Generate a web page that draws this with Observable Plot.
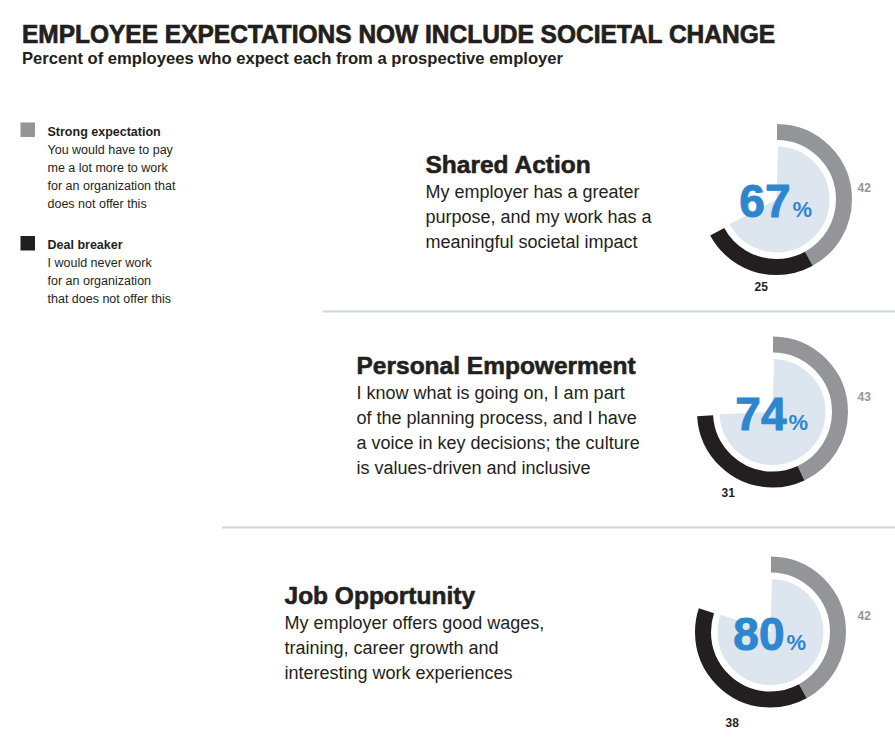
<!DOCTYPE html>
<html>
<head>
<meta charset="utf-8">
<script src="https://cdn.jsdelivr.net/npm/d3@7"></script>
<script src="https://cdn.jsdelivr.net/npm/@observablehq/plot@0.6"></script>
<style>
  body { margin: 0; background: #fff; }
  #wrap { position: relative; width: 895px; height: 747px; overflow: hidden;
          font-family: 'Liberation Sans', Arial, Helvetica, sans-serif; color: #231f20; }
  #title { position: absolute; left: 22px; top: 22px; font-size: 25px; line-height: 25px;
           font-weight: bold; white-space: nowrap; transform-origin: 0 0; display: inline-block;
           -webkit-text-stroke: 0.7px #231f20; }
  #subtitle { position: absolute; left: 22px; top: 50px; font-size: 16.5px; line-height: 16.5px;
              font-weight: bold; white-space: nowrap; transform-origin: 0 0; display: inline-block; }
  #chart { position: absolute; left: 0; top: 80px; }
</style>
</head>
<body>
<div id="wrap">
  <div id="title"></div>
  <div id="subtitle"></div>
  <div id="chart"></div>
</div>
<script>
// ---------- data ----------
const titleText = "EMPLOYEE EXPECTATIONS NOW INCLUDE SOCIETAL CHANGE";
const subtitleText = "Percent of employees who expect each from a prospective employer";
const categories = ["Shared Action", "Personal Empowerment", "Job Opportunity"];
const descriptionLines = [
  ["My employer has a greater", "purpose, and my work has a", "meaningful societal impact"],
  ["I know what is going on, I am part", "of the planning process, and I have", "a voice in key decisions; the culture", "is values-driven and inclusive"],
  ["My employer offers good wages,", "training, career growth and", "interesting work experiences"]
];
const strongExpectation = [42, 43, 42];
const dealBreaker = [25, 31, 38];
const totalPercent = [67, 74, 80];
const seriesNames = ["Strong expectation", "Deal breaker"];
const seriesNotes = [
  ["You would have to pay", "me a lot more to work", "for an organization that", "does not offer this"],
  ["I would never work", "for an organization", "that does not offer this"]
];

// ---------- layout & style (page pixel coordinates) ----------
const L = {
  cx: [776, 772, 770],
  cy: [199, 411.5, 631.5],
  textX: [425, 356, 284],
  headBaseline: [172, 373, 603],
  lineStep: 25,
  grayLabel: [[857, 191], [857, 400], [857, 619]],
  darkLabel: [[754, 290], [721, 496], [725, 726]],
  separators: [[323, 311], [222, 527]],
  legendX: 20.5, legendSq: 14.5, legendTextX: 47,
  legendTop: [122.5, 236], legendStep: 18,
  ringR: 67.5, ringW: 16, pieR: 53
};
const C = {
  strong: "#939598", deal: "#231f20", pie: "#dde6ef", blue: "#2e86cf",
  text: "#231f20", sep: "#c9d6e0"
};
const seriesColors = [C.strong, C.deal];
const FONT = "'Liberation Sans', Arial, Helvetica, sans-serif";
const mid = (baseline, fs) => baseline - 0.32 * fs; // Plot lineAnchor "middle" => dy .32em

// ---------- header ----------
const t = document.getElementById("title");
t.textContent = titleText;
const s = document.getElementById("subtitle");
s.textContent = subtitleText;
function fit(el, w) {
  const bw = el.getBoundingClientRect().width;
  el.style.transform = `scaleX(${w / bw})`;
}
fit(t, 753);
fit(s, 541);

// ---------- rows ----------
const rows = categories.map((c, i) => ({
  i, category: c, strong: strongExpectation[i], deal: dealBreaker[i], total: totalPercent[i],
  cx: L.cx[i], cy: L.cy[i]
}));

function arcDot(row, startPct, pct, radius, width, color) {
  const circ = 2 * Math.PI * radius;
  const len = pct / 100 * circ;
  const startDeg = ((startPct / 100 * 360 - 90) % 360 + 360) % 360;
  const p0 = startDeg / 360 * circ;
  return Plot.dot([row], {
    x: "cx", y: "cy", r: radius, fill: "none", stroke: color, strokeWidth: width,
    strokeDasharray: `${len} ${circ - len}`, strokeDashoffset: circ - p0
  });
}

const ringMarks = rows.flatMap(r => [
  arcDot(r, 0, r.total, L.pieR / 2, L.pieR, C.pie),
  arcDot(r, 0, r.strong, L.ringR, L.ringW, C.strong),
  arcDot(r, r.strong, r.deal, L.ringR, L.ringW, C.deal)
]);

const descRows = descriptionLines.flatMap((lines, i) =>
  lines.map((text, j) => ({ text, x: L.textX[i], y: mid(L.headBaseline[i] + L.lineStep * (j + 1), 18) })));

const legendRows = seriesNames.map((name, k) => ({
  name, x1: L.legendX, x2: L.legendX + L.legendSq,
  y1: L.legendTop[k], y2: L.legendTop[k] + L.legendSq,
  ty: mid(L.legendTop[k] + 12.5, 12.5)
}));
const legendNoteRows = seriesNotes.flatMap((notes, k) =>
  notes.map((text, j) => ({ text, y: mid(L.legendTop[k] + 12.5 + L.legendStep * (j + 1), 12.5) })));

const chart = Plot.plot({
  width: 895,
  height: 667,
  margin: 0,
  x: { type: "linear", domain: [0, 895], range: [0, 895], axis: null },
  y: { type: "linear", domain: [80, 747], range: [0, 667], axis: null },
  color: { domain: seriesNames, range: seriesColors },
  style: { fontFamily: FONT, color: C.text, background: "#fff", overflow: "visible" },
  marks: [
    // separators
    Plot.ruleY(L.separators, { y: d => d[1], x1: d => d[0], x2: 895, stroke: C.sep, strokeWidth: 2 }),
    // legend
    Plot.rect(legendRows, { x1: "x1", x2: "x2", y1: "y1", y2: "y2", fill: "name" }),
    Plot.text(legendRows, { x: L.legendTextX, y: "ty", text: "name", textAnchor: "start", lineAnchor: "middle",
      fontSize: 12.5, fontWeight: "bold", fill: C.text }),
    Plot.text(legendNoteRows, { x: L.legendTextX, y: "y", text: "text", textAnchor: "start", lineAnchor: "middle",
      fontSize: 12.5, fill: C.text }),
    // headings and descriptions
    Plot.text(rows, { x: d => L.textX[d.i], y: d => mid(L.headBaseline[d.i], 24.5), text: "category",
      textAnchor: "start", lineAnchor: "middle", fontSize: 24.5, fontWeight: "bold", fill: C.text,
      stroke: C.text, strokeWidth: 0.6 }),
    Plot.text(descRows, { x: "x", y: "y", text: "text", textAnchor: "start", lineAnchor: "middle",
      fontSize: 18, fill: C.text }),
    // donuts
    ...ringMarks,
    // center percentages
    Plot.text(rows, { x: d => d.cx + 14, y: d => mid(d.cy + 17.5, 46), text: d => String(d.total),
      textAnchor: "end", lineAnchor: "middle", fontSize: 46, fontWeight: "bold", fill: C.blue,
      stroke: C.blue, strokeWidth: 1 }),
    Plot.text(rows, { x: d => d.cx + 16, y: d => mid(d.cy + 17.5, 22), text: () => "%",
      textAnchor: "start", lineAnchor: "middle", fontSize: 22, fontWeight: "bold", fill: C.blue }),
    // value labels
    Plot.text(rows, { x: d => L.grayLabel[d.i][0], y: d => mid(L.grayLabel[d.i][1], 12), text: d => String(d.strong),
      textAnchor: "start", lineAnchor: "middle", fontSize: 12, fontWeight: "bold", fill: C.strong }),
    Plot.text(rows, { x: d => L.darkLabel[d.i][0], y: d => mid(L.darkLabel[d.i][1], 12), text: d => String(d.deal),
      textAnchor: "start", lineAnchor: "middle", fontSize: 12, fontWeight: "bold", fill: C.deal })
  ]
});
document.getElementById("chart").appendChild(chart);
</script>
</body>
</html>
